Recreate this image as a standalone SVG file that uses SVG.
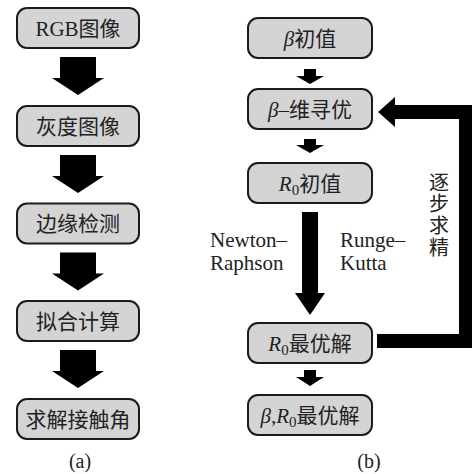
<svg xmlns="http://www.w3.org/2000/svg" width="473" height="474" viewBox="0 0 473 474">
  <style>
    .box { fill: #d4d4d4; stroke: #1a1a1a; stroke-width: 2; }
    .lbl { font-family: "Liberation Serif", "Noto Sans CJK SC", serif; font-size: 21px; fill: #222; text-anchor: middle; }
    .side { font-family: "Liberation Serif", "Noto Sans CJK SC", serif; font-size: 21px; fill: #222; }
    .vert { font-family: "Noto Sans CJK SC", sans-serif; font-size: 20px; fill: #222; writing-mode: vertical-rl; letter-spacing: 1.7px; }
    .cap { font-family: "Liberation Serif", serif; font-size: 20px; fill: #222; text-anchor: middle; }
    .arr { fill: #000; }
    .it { font-style: italic; }
  </style>

  <!-- left flow (a) -->
  <g id="rgb">
    <rect class="box" x="17" y="8" width="122" height="40" rx="10"/>
    <text class="lbl" x="78" y="35.5">RGB图像</text>
  </g>
  <g id="gray">
    <rect class="box" x="17" y="106" width="122" height="40" rx="10"/>
    <text class="lbl" x="78" y="133.5">灰度图像</text>
  </g>
  <g id="edge">
    <rect class="box" x="17" y="203.5" width="122" height="40" rx="10"/>
    <text class="lbl" x="78" y="231">边缘检测</text>
  </g>
  <g id="fit">
    <rect class="box" x="17" y="301" width="122" height="40" rx="10"/>
    <text class="lbl" x="78" y="328.5">拟合计算</text>
  </g>
  <g id="angle">
    <rect class="box" x="17" y="399" width="122" height="40" rx="10"/>
    <text class="lbl" x="78" y="426.5">求解接触角</text>
  </g>
  <text class="cap" x="80" y="468">(a)</text>

  <!-- right flow (b) -->
  <g id="beta0">
    <rect class="box" x="248" y="18" width="124" height="40" rx="10"/>
    <text class="lbl" x="310" y="45.5"><tspan class="it">β</tspan>初值</text>
  </g>
  <g id="betaopt">
    <rect class="box" x="248" y="89" width="124" height="40" rx="10"/>
    <text class="lbl" x="310" y="116.5"><tspan class="it">β</tspan>–维寻优</text>
  </g>
  <g id="r0init">
    <rect class="box" x="248" y="163" width="124" height="40" rx="10"/>
    <text class="lbl" x="310" y="190.5"><tspan class="it">R</tspan><tspan dy="4" font-size="15">0</tspan><tspan dy="-4">初值</tspan></text>
  </g>
  <g id="r0best">
    <rect class="box" x="248" y="323" width="124" height="40" rx="10"/>
    <text class="lbl" x="310" y="350.5"><tspan class="it">R</tspan><tspan dy="4" font-size="15">0</tspan><tspan dy="-4">最优解</tspan></text>
  </g>
  <g id="best">
    <rect class="box" x="248" y="395" width="124" height="40" rx="10"/>
    <text class="lbl" x="310" y="422.5"><tspan class="it">β,R</tspan><tspan dy="4" font-size="15">0</tspan><tspan dy="-4">最优解</tspan></text>
  </g>
  <text class="cap" x="369" y="468">(b)</text>

  <!-- connectors -->
  <g id="connectors">
    <polygon class="arr" points="60,57 96,57 96,78 104,78 78,95 52,78 60,78"/>
    <polygon class="arr" points="60,155 96,155 96,176 104,176 78,193 52,176 60,176"/>
    <polygon class="arr" points="60,252.5 96,252.5 96,273.5 104,273.5 78,290.5 52,273.5 60,273.5"/>
    <polygon class="arr" points="60,350 96,350 96,371 104,371 78,388 52,371 60,371"/>

    <polygon class="arr" points="304,69 316,69 316,76 324,76 310,84 296,76 304,76"/>
    <polygon class="arr" points="304,139 316,139 316,145 324,145 310,153 296,145 304,145"/>
    <polygon class="arr" points="302,212 318,212 318,293 325,293 310,315 295,293 302,293"/>
    <polygon class="arr" points="304,370 316,370 316,377 324,377 310,386 296,377 304,377"/>

    <!-- refinement loop back to the β search -->
    <polygon class="arr" points="378,112 395,97 395,105 472,105 472,348 377,348 377,334 459,334 459,119 395,119 395,127"/>

    <text class="side" x="210" y="247">Newton–</text>
    <text class="side" x="210" y="270">Raphson</text>
    <text class="side" x="340" y="247">Runge–</text>
    <text class="side" x="340" y="270">Kutta</text>

    <text class="vert" x="439" y="172">逐步求精</text>
  </g>
</svg>
